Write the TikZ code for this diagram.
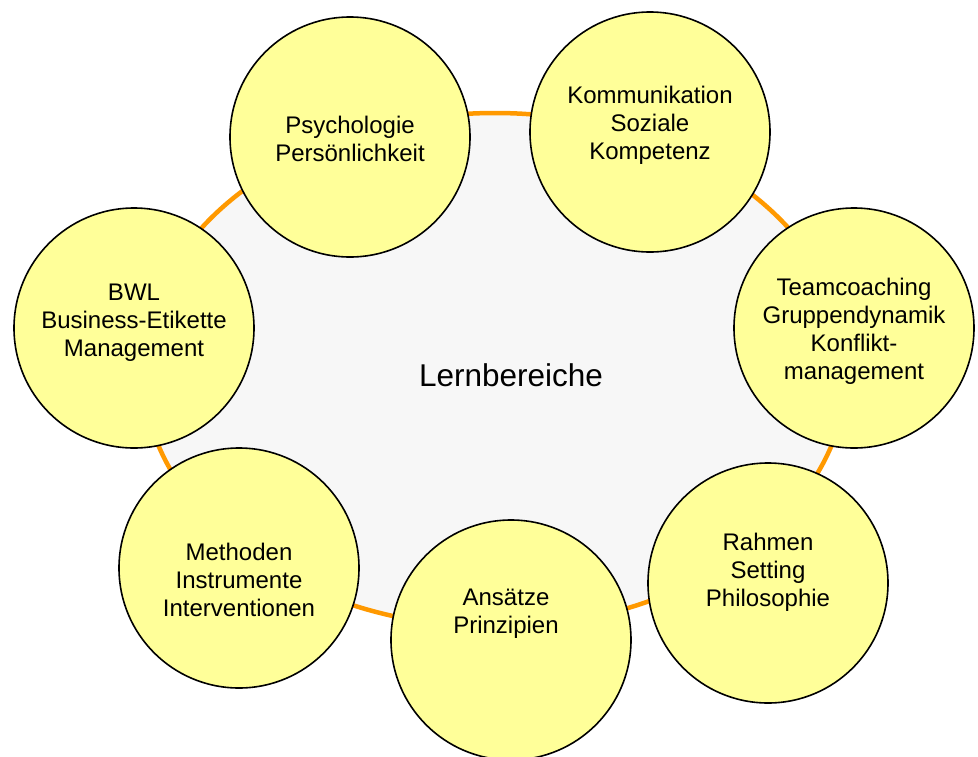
\documentclass[tikz,border=0pt]{standalone}
\usepackage{fontspec}
\setmainfont{Liberation Sans}
\definecolor{ringorange}{HTML}{FF9900}
\definecolor{bubbleyellow}{HTML}{FFFF99}
\definecolor{ringfill}{HTML}{F7F7F7}
\tikzset{
  bubble/.style={
    circle,
    minimum size=240pt,
    inner sep=0pt,
    outer sep=0pt,
    fill=bubbleyellow,
  draw=black,
  line width=1.6pt
  },
  txt/.style={
    align=center,
    font=\fontsize{24}{28}\selectfont
  }
}

\begin{document}
\begin{tikzpicture}[x=1pt,y=-1pt]
    \useasboundingbox (0,0) rectangle (978,756);
    \draw[ringorange,line width=4.5pt,fill=ringfill] (495,370) ellipse [x radius=352,y radius=257];
    \node[font=\fontsize{31.5}{36}\selectfont] (center) at (511,375) {Lernbereiche};
    \node[bubble] (psych) at (350,137) {};
    \node[bubble] (komm) at (650,132) {};
    \node[bubble] (team) at (854,328) {};
    \node[bubble] (rahmen) at (768,583) {};
    \node[bubble] (ansatz) at (511,640) {};
    \node[bubble] (method) at (239,568) {};
    \node[bubble] (bwl) at (134,328) {};
    \node[txt] at ([yshift=-2]psych) {Psychologie\\Persönlichkeit};
    \node[txt] at ([yshift=7]komm) {Kommunikation\\Soziale\\Kompetenz};
    \node[txt] at ([yshift=-3]team) {Teamcoaching\\Gruppendynamik\\Konflikt-\\management};
    \node[txt] at ([yshift=11]rahmen) {Rahmen\\Setting\\Philosophie};
    \node[txt] at ([xshift=-5,yshift=26]ansatz) {Ansätze\\Prinzipien};
    \node[txt] at ([yshift=-12]method) {Methoden\\Instrumente\\Interventionen};
    \node[txt] at ([yshift=5]bwl) {BWL\\Business-Etikette\\Management};
\end{tikzpicture}
\end{document}
